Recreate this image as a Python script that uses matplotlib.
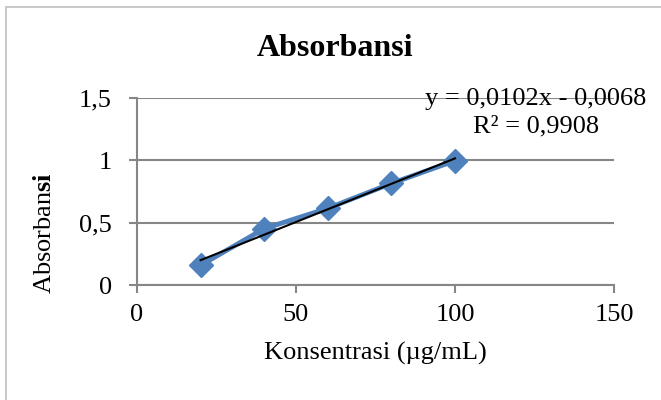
import numpy as np
import matplotlib
matplotlib.use("Agg")
import matplotlib.pyplot as plt
from matplotlib.patches import Rectangle

# Data
konsentrasi = [20, 40, 60, 80, 100]
absorbansi = [0.158, 0.452, 0.615, 0.815, 0.997]
x_ticks = [0, 50, 100, 150]
y_ticks = [0, 0.5, 1, 1.5]
y_tick_labels = ["0", "0,5", "1", "1,5"]
equation_text = "y = 0,0102x - 0,0068\nR² = 0,9908"

plt.rcParams["font.family"] = ["Liberation Serif", "DejaVu Serif"]
plt.rcParams["mathtext.fontset"] = "custom"
plt.rcParams["mathtext.rm"] = "Liberation Serif"
plt.rcParams["mathtext.bf"] = "Liberation Serif:bold"

blue = "#4F81BD"
grid_gray = "#868686"

fig = plt.figure(figsize=(6.61, 4.0), dpi=100)
fig.patches.append(Rectangle((6 / 661, -0.05), 1.0, 1.05 - 7 / 400, transform=fig.transFigure,
                             fill=False, edgecolor="#BFBFBF", linewidth=1.2))

ax = fig.add_axes([137 / 661, 1 - 285 / 400, (614 - 137) / 661, (285 - 98) / 400])

ax.plot(konsentrasi, absorbansi, color=blue, linewidth=3.5, marker="D", markersize=12,
        markerfacecolor=blue, markeredgecolor=blue, zorder=3)

# linear trendline from data
slope, intercept = np.polyfit(konsentrasi, absorbansi, 1)
xs = np.array([konsentrasi[0], konsentrasi[-1]])
ax.plot(xs, slope * xs + intercept, color="black", linewidth=1.5, zorder=4)

ax.set_xlim(0, 150)
ax.set_ylim(0, 1.5)
ax.set_xticks(x_ticks)
ax.set_yticks(y_ticks)
ax.set_yticklabels(y_tick_labels)
ax.tick_params(axis="both", labelsize=19, color=grid_gray, width=1.5, length=6)
ax.tick_params(axis="y", pad=12)
ax.tick_params(axis="x", pad=8)
ax.yaxis.grid(True, color=grid_gray, linewidth=1.5)
ax.set_axisbelow(True)
for side in ["top", "right"]:
    ax.spines[side].set_visible(False)
for side in ["left", "bottom"]:
    ax.spines[side].set_color(grid_gray)
    ax.spines[side].set_linewidth(1.5)

ax.set_xlabel("Konsentrasi (µg/mL)", fontsize=19, labelpad=11)
fig.text(45 / 661, 1 - 233 / 400, r"Absorban$\mathbf{si}$", rotation=90, fontsize=19,
         ha="center", va="center")

fig.text(335 / 661, 1 - 48 / 400, "Absorbansi", fontsize=23, fontweight="bold",
         ha="center", va="center")
fig.text(536 / 661, 1 - 113 / 400, equation_text, fontsize=19, ha="center", va="center",
         linespacing=1.3)

fig.savefig("out.png", dpi=100)
